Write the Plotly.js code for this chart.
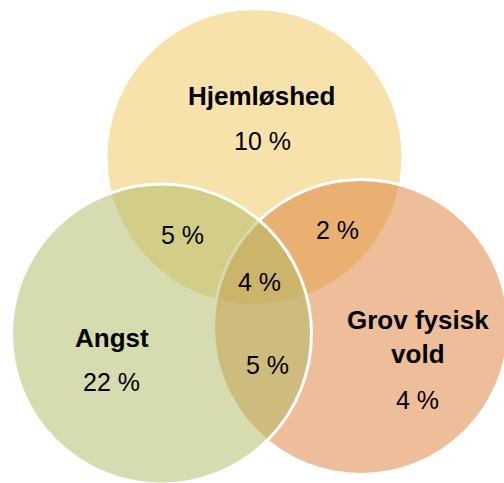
<!DOCTYPE html>
<html>
<head>
<meta charset="utf-8">
<script src="https://cdn.plot.ly/plotly-3.0.1.min.js"></script>
<style>html,body{margin:0;padding:0;background:#fff;}#chart{width:504px;height:483px;}</style>
</head>
<body>
<div id="chart"></div>
<script>
// ---- data ----
var setNames = ['Hjemløshed', 'Angst', 'Grov fysisk<br>vold'];
var setValues = [10, 22, 4];
var overlapNames = ['Hjemløshed ∩ Angst', 'Hjemløshed ∩ Grov fysisk vold', 'Angst ∩ Grov fysisk vold', 'Alle tre'];
var overlapValues = [5, 2, 5, 4];

// ---- layout (positions / styles) ----
// circle geometry: [cx, cy, r] in plot units, drawing order yellow, orange, green
var circleGeom = {
  'Hjemløshed': [254.5, 157, 148.5],
  'Grov fysisk<br>vold': [361, 327, 147.5],
  'Angst': [161.5, 334, 150]
};
var drawOrder = ['Hjemløshed', 'Grov fysisk<br>vold', 'Angst'];
var circleFill = {
  'Hjemløshed': 'rgba(239,197,89,0.5)',
  'Grov fysisk<br>vold': 'rgba(221,125,55,0.5)',
  'Angst': 'rgba(173,185,97,0.5)'
};
var nameLabelPos = [[261.5, 96], [111.5, 338], [418, 337]];
var valueLabelPos = [[262, 141], [111.5, 382], [417.5, 400]];
var overlapLabelPos = [[182.5, 235], [337.5, 230], [267, 365], [259, 282]];

var FONT = 'Liberation Sans, Arial, sans-serif';

var shapes = drawOrder.map(function (n) {
  var g = circleGeom[n];
  return {
    type: 'circle', xref: 'x', yref: 'y',
    x0: g[0] - g[2], x1: g[0] + g[2], y0: g[1] - g[2], y1: g[1] + g[2],
    fillcolor: circleFill[n], line: {color: '#ffffff', width: 3}, layer: 'below'
  };
});

var annotations = [];
setNames.forEach(function (n, i) {
  annotations.push({x: nameLabelPos[i][0], y: nameLabelPos[i][1], xref: 'x', yref: 'y',
    text: '<b>' + n + '</b>', showarrow: false, xanchor: 'center', yanchor: 'middle',
    font: {family: FONT, size: 26, color: '#000'}});
  annotations.push({x: valueLabelPos[i][0], y: valueLabelPos[i][1], xref: 'x', yref: 'y',
    text: setValues[i] + ' %', showarrow: false, xanchor: 'center', yanchor: 'middle',
    font: {family: FONT, size: 25, color: '#000'}});
});
overlapValues.forEach(function (v, i) {
  annotations.push({x: overlapLabelPos[i][0], y: overlapLabelPos[i][1], xref: 'x', yref: 'y',
    text: v + ' %', showarrow: false, xanchor: 'center', yanchor: 'middle',
    font: {family: FONT, size: 25, color: '#000'}});
});

var layout = {
  width: 504, height: 483,
  margin: {l: 0, r: 0, t: 0, b: 0},
  paper_bgcolor: '#ffffff', plot_bgcolor: '#ffffff',
  xaxis: {range: [0, 504], visible: false, fixedrange: true},
  yaxis: {range: [483, 0], visible: false, fixedrange: true},
  showlegend: false,
  shapes: shapes,
  annotations: annotations
};

Plotly.newPlot('chart', [{x: [], y: [], type: 'scatter', mode: 'markers', hoverinfo: 'skip'}], layout, {displayModeBar: false, staticPlot: true});
</script>
</body>
</html>
